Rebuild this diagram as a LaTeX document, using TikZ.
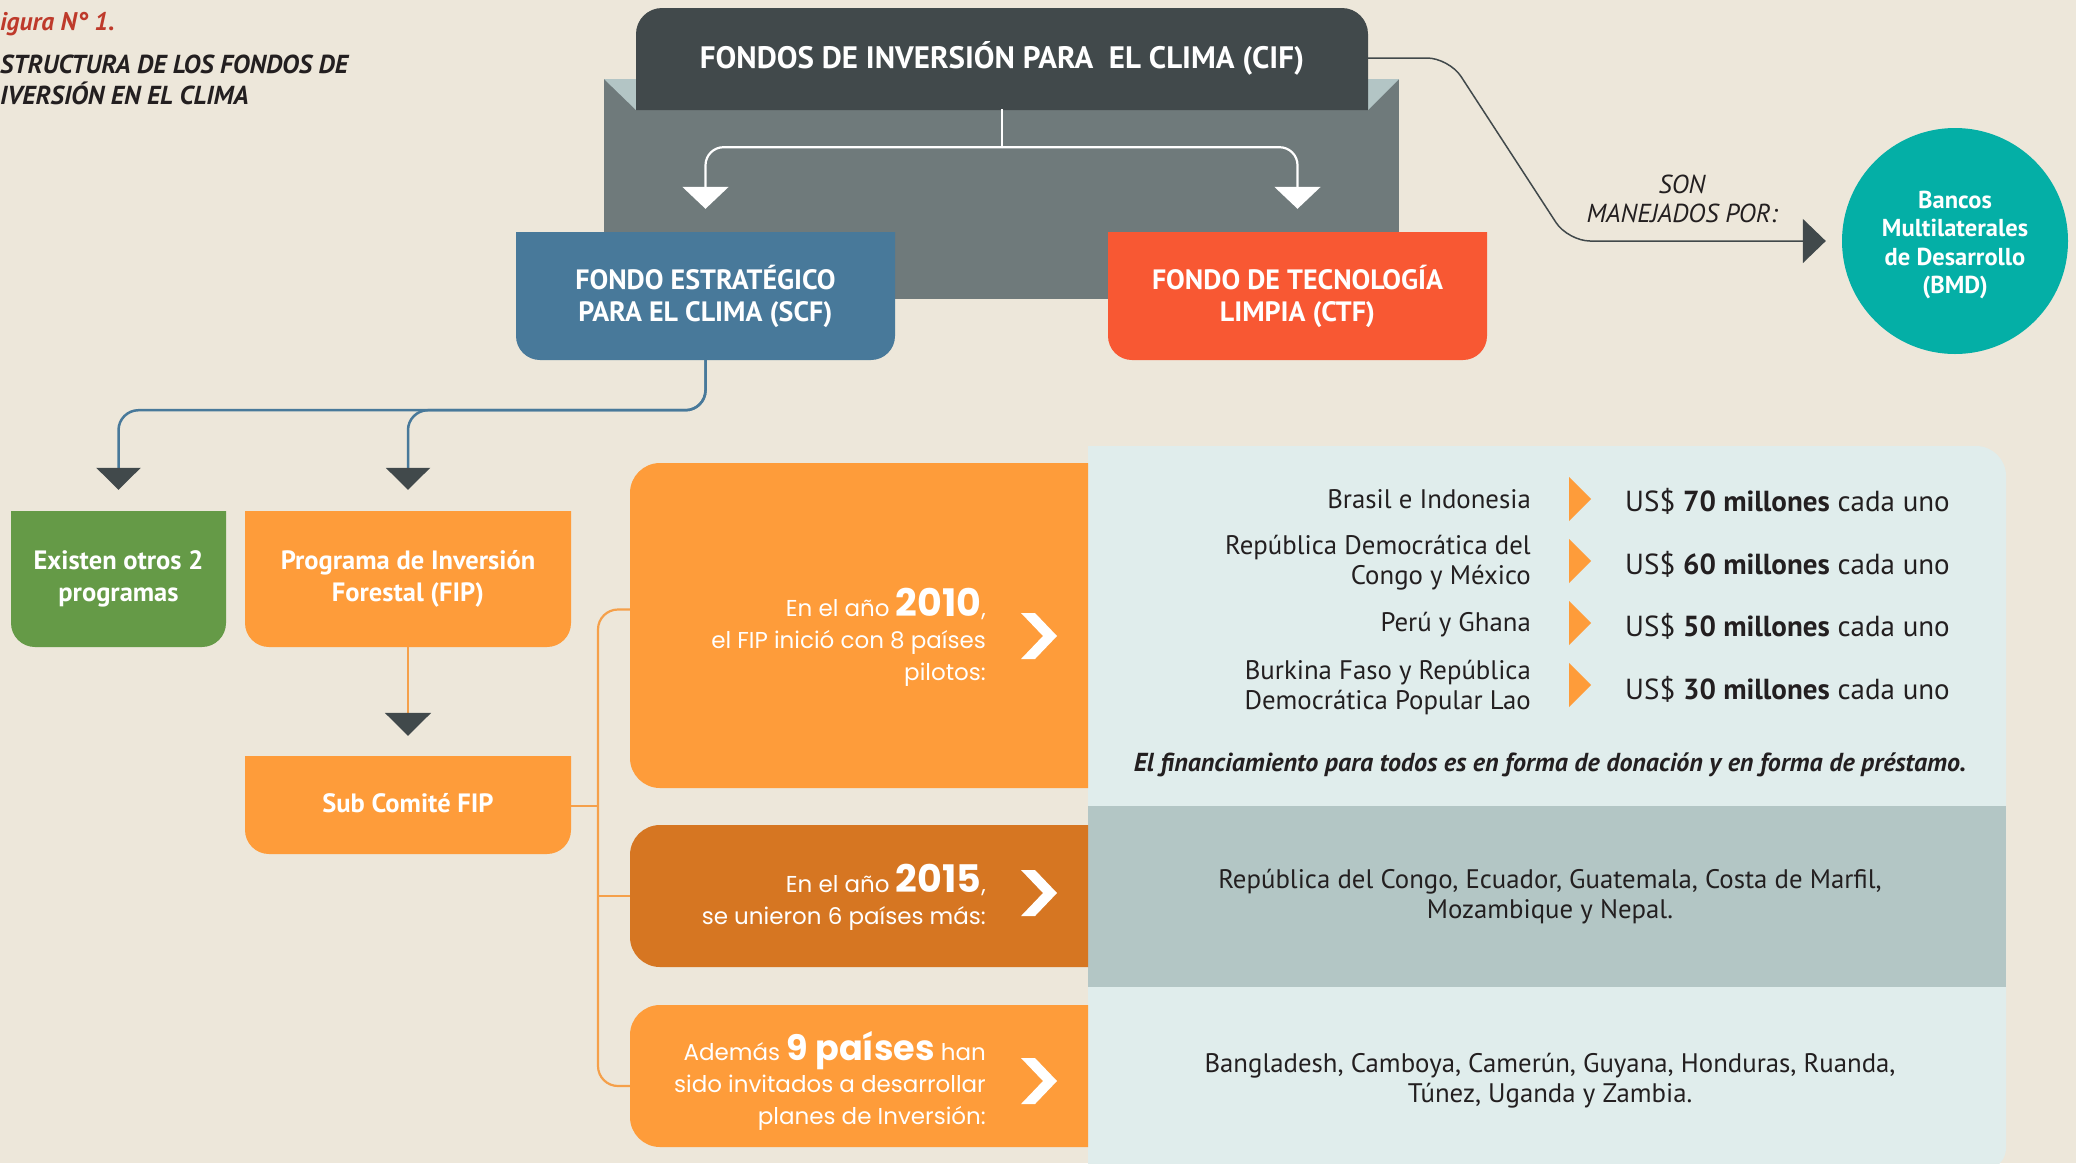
\documentclass[tikz,border=0pt]{standalone}
\usepackage{fontspec}
\setmainfont{PT Sans}
\newfontfamily\pop{Poppins}
\usetikzlibrary{arrows.meta}
\definecolor{bgc}{HTML}{EDE7DA}
\definecolor{darkc}{HTML}{41494B}
\definecolor{grayc}{HTML}{6F7A7B}
\definecolor{lightc}{HTML}{B3C5C5}
\definecolor{bluec}{HTML}{48799A}
\definecolor{redc}{HTML}{F85833}
\definecolor{tealc}{HTML}{04AFA6}
\definecolor{greenc}{HTML}{659A47}
\definecolor{orangec}{HTML}{FE9C3A}
\definecolor{dorangec}{HTML}{D67622}
\definecolor{panelc}{HTML}{E0EDEC}
\definecolor{bandc}{HTML}{B3C6C5}
\definecolor{txtc}{HTML}{231F20}
\definecolor{titlec}{HTML}{BE3A2B}
\definecolor{olinec}{HTML}{F5A04A}
\newcommand\myrbox[9]{\fill[#1] ({#2+#6},#3) -- ({#4-#7},#3) arc[start angle=90,end angle=0,radius=#7] -- (#4,{#5+#8}) arc[start angle=0,end angle=-90,radius=#8] -- ({#2+#9},#5) arc[start angle=270,end angle=180,radius=#9] -- (#2,{#3-#6}) arc[start angle=180,end angle=90,radius=#6] -- cycle;}
\newcommand\mychev[2]{\fill[white] (#1,{#2+23}) -- ({#1+14},{#2+23}) -- ({#1+36},#2) -- ({#1+14},{#2-23}) -- (#1,{#2-23}) -- ({#1+22},#2) -- cycle;}
\newcommand\mytri[1]{\fill[orangec] (1569,{#1+22}) -- (1591,#1) -- (1569,{#1-22}) -- cycle;}
\tikzset{
  box/.style={inner sep=0pt, text=white, align=center},
  hbox/.style={box, font=\fontsize{28}{32}\selectfont\bfseries},
  pbox/.style={box, font=\fontsize{26.5}{32}\selectfont\bfseries},
  ytxt/.style={inner sep=0pt, text=white, align=right, anchor=east, font=\pop\fontsize{23}{32}\selectfont},
  ptxt/.style={inner sep=0pt, text=txtc, font=\fontsize{26.8}{30}\selectfont},
  rtxt/.style={inner sep=0pt, text=txtc, anchor=west, font=\fontsize{29}{32}\selectfont},
  wline/.style={draw=white, line width=2.2pt, rounded corners=18pt, -{Triangle[width=46pt,length=22pt]}},
  bline/.style={draw=bluec, line width=2.5pt, rounded corners=20pt, -{Triangle[width=44pt,length=22pt,color=darkc]}},
  dline/.style={draw=darkc, line width=1.5pt, rounded corners=22pt, -{Triangle[width=44pt,length=23pt]}},
  oline/.style={draw=olinec, line width=2.2pt},
}
\newcommand\bignum[1]{{\fontsize{38}{32}\selectfont\bfseries #1}}
\begin{document}
\begin{tikzpicture}[x=1pt,y=1pt]
\useasboundingbox (0,0) rectangle (2076,-1163);
\fill[bgc] (0,0) rectangle (2076,-1163);
% backdrop
\fill[grayc] (604,-79) rectangle (1399,-299);
\fill[lightc] (604,-79) -- (636,-79) -- (636,-110) -- cycle;
\fill[lightc] (1399,-79) -- (1368,-79) -- (1368,-110) -- cycle;
% boxes
\myrbox{darkc}{636}{-8}{1368}{-110}{26}{26}{0.01}{0.01}
\myrbox{bluec}{516}{-232}{895}{-360}{0.01}{0.01}{24}{24}
\myrbox{redc}{1108}{-232}{1487}{-360}{0.01}{0.01}{24}{24}
\myrbox{greenc}{11}{-511}{226}{-647}{0.01}{0.01}{24}{24}
\myrbox{orangec}{245}{-511}{571}{-647}{0.01}{0.01}{24}{24}
\myrbox{orangec}{245}{-756}{571}{-854}{0.01}{0.01}{24}{24}
\myrbox{panelc}{1088}{-446}{2006}{-1170}{0.01}{30}{22}{0.01}
\fill[bandc] (1088,-806) rectangle (2006,-987);
\myrbox{orangec}{630}{-463}{1088}{-788}{30}{0.01}{0.01}{30}
\myrbox{dorangec}{630}{-825}{1088}{-967}{30}{0.01}{0.01}{30}
\myrbox{orangec}{630}{-1005}{1088}{-1147}{30}{0.01}{0.01}{30}
% title
\node[anchor=west, inner sep=0pt, text=titlec, font=\fontsize{25.5}{28}\selectfont\bfseries\itshape] (fig) at (0,-24) {igura N° 1.};
\node[anchor=west, inner sep=0pt, align=left, text=txtc, font=\fontsize{26}{31}\selectfont\bfseries\itshape] (tit) at (0,-80) {STRUCTURA DE LOS FONDOS DE\\IVERSIÓN EN EL CLIMA};
% main nodes
\node[box, minimum width=732pt, minimum height=102pt, font=\fontsize{31}{34}\selectfont\bfseries] (cif) at (1002,-58) {FONDOS DE INVERSIÓN PARA\ \ EL CLIMA (CIF)};
\node[hbox, minimum width=379pt, minimum height=128pt] (scf) at (705.5,-296) {FONDO ESTRATÉGICO\\PARA EL CLIMA (SCF)};
\node[hbox, minimum width=379pt, minimum height=128pt] (ctf) at (1297.5,-296) {FONDO DE TECNOLOGÍA\\LIMPIA (CTF)};
\node[circle, fill=tealc, minimum size=226pt, inner sep=0pt] (bmd) at (1955,-241) {};
\node[inner sep=0pt, text=white, align=center, font=\fontsize{24.5}{28.5}\selectfont\bfseries] (bmdt) at (1955,-245) {Bancos\\Multilaterales\\de Desarrollo\\(BMD)};
\node[inner sep=0pt, align=center, text=txtc, font=\fontsize{26}{29}\selectfont\itshape] (son) at (1682,-199) {SON\\MANEJADOS POR:};
\node[pbox, minimum width=215pt, minimum height=136pt] (green) at (118.5,-579) {Existen otros 2\\programas};
\node[pbox, minimum width=326pt, minimum height=136pt] (fip) at (408,-579) {Programa de Inversión\\Forestal (FIP)};
\node[pbox, minimum width=326pt, minimum height=98pt] (sub) at (408,-803) {Sub Comité FIP};
\node[box, minimum width=458pt, minimum height=325pt] (y2010) at (859,-625.5) {};
\node[box, minimum width=458pt, minimum height=142pt] (y2015) at (859,-896) {};
\node[box, minimum width=458pt, minimum height=142pt] (ademas) at (859,-1076) {};
\node[ytxt] (t2010) at (986,-637) {En el año \bignum{2010},\\el FIP inició con 8 países\\pilotos:};
\node[ytxt] (t2015) at (986,-897) {En el año \bignum{2015},\\se unieron 6 países más:};
\node[ytxt] (tadem) at (986,-1081) {Además {\fontsize{35}{32}\selectfont\bfseries 9 países} han\\sido invitados a desarrollar\\planes de Inversión:};
\mychev{1021}{-636}
\mychev{1021}{-893}
\mychev{1021}{-1081}
% panel rows
\node[ptxt, anchor=east, align=right] (r1l) at (1531,-499) {Brasil e Indonesia};
\node[ptxt, anchor=east, align=right] (r2l) at (1531,-563) {República Democrática del\\Congo y México};
\node[ptxt, anchor=east, align=right] (r3l) at (1531,-625) {Perú y Ghana};
\node[ptxt, anchor=east, align=right] (r4l) at (1531,-688) {Burkina Faso y República\\Democrática Popular Lao};
\mytri{-499}
\mytri{-561}
\mytri{-623}
\mytri{-685}
\node[rtxt] (r1r) at (1625,-501) {US\$ \textbf{70 millones} cada uno};
\node[rtxt] (r2r) at (1625,-564) {US\$ \textbf{60 millones} cada uno};
\node[rtxt] (r3r) at (1625,-626) {US\$ \textbf{50 millones} cada uno};
\node[rtxt] (r4r) at (1625,-689) {US\$ \textbf{30 millones} cada uno};
\node[inner sep=0pt, text=txtc, font=\fontsize{26}{28}\selectfont\bfseries\itshape] (nota) at (1550,-765) {El financiamiento para todos es en forma de donación y en forma de préstamo.};
\node[ptxt, align=center] (band) at (1550,-897) {República del Congo, Ecuador, Guatemala, Costa de Marfil,\\Mozambique y Nepal.};
\node[ptxt, align=center] (inv) at (1550,-1081) {Bangladesh, Camboya, Camerún, Guyana, Honduras, Ruanda,\\Túnez, Uganda y Zambia.};
% connectors
\coordinate (wj) at ([yshift=-38pt]cif.south);
\draw[draw=white, line width=2.2pt] (cif.south) -- (wj);
\draw[wline] (wj) -| ([yshift=23pt]scf.north);
\draw[wline] (wj) -| ([yshift=23pt]ctf.north);
\draw[dline] (cif.east) -- (1449,-58) -- (1568,-241) -- ([xshift=-16pt]bmd.west);
\draw[bline] (scf.south) -- ++(0,-50) -| ([yshift=21pt]green.north);
\draw[bline] (scf.south) -- ++(0,-50) -| ([yshift=21pt]fip.north);
\draw[oline, -{Triangle[width=46pt,length=23pt,color=darkc]}] (fip.south) -- ([yshift=18pt]sub.north);
\coordinate (bk) at (598,-806);
\draw[oline] (sub.east |- bk) -- (bk);
\draw[oline, rounded corners=20pt] ([yshift=16pt]y2010.west) -| (bk) |- ([yshift=-10pt]ademas.west);
\draw[oline] (bk |- y2015.west) -- (y2015.west);
\end{tikzpicture}
\end{document}
